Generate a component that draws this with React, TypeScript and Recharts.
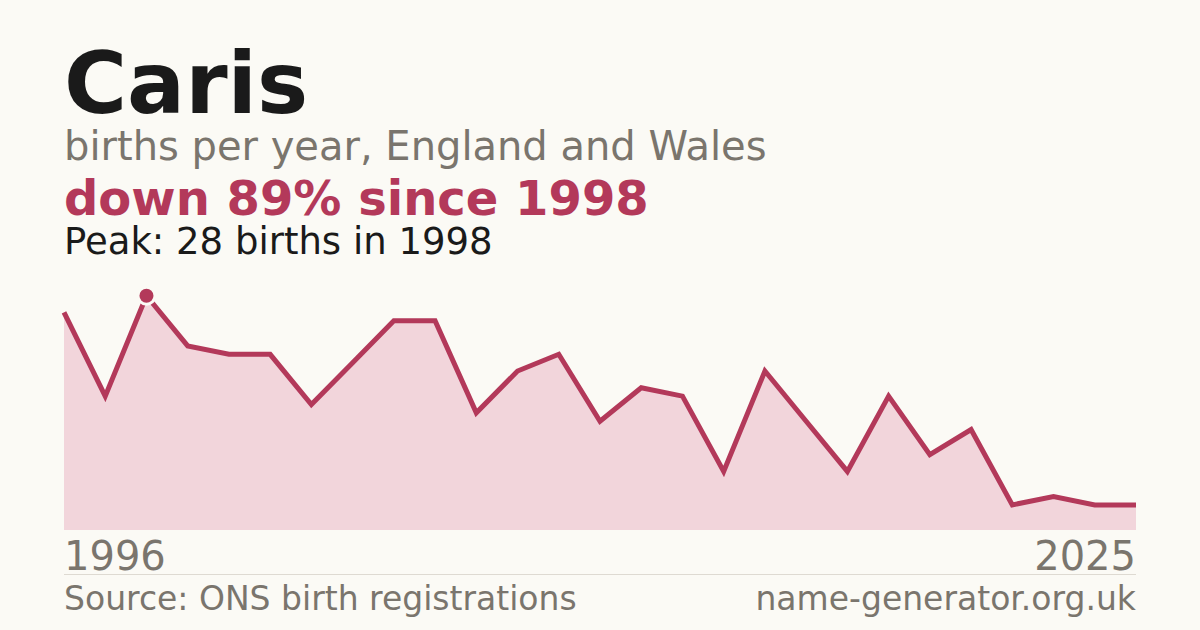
import React from "react";
import { AreaChart, Area, XAxis, YAxis } from "recharts";

// births per year
const years = [
  "1996", "1997", "1998", "1999", "2000", "2001", "2002", "2003", "2004",
  "2005", "2006", "2007", "2008", "2009", "2010", "2011", "2012", "2013",
  "2014", "2015", "2016", "2017", "2018", "2019", "2020", "2021", "2022",
];
const births = [
  26, 16, 28, 22, 21, 21, 15, 20, 25, 25, 14, 19, 21, 13, 17, 16, 7, 19,
  13, 7, 16, 9, 12, 3, 4, 3, 3,
];
const axisLabels = ["1996", "2025"];
const peakYear = "1998";

const data = years.map((y, i) => ({ year: y, births: births[i] }));
const peakIndex = years.indexOf(peakYear);

const FONT = "'DejaVu Sans', sans-serif";
const RED = "#b3395a";
const GREY = "#7a756d";

// only the peak year gets a marker
const PeakDot = (props: any) => {
  const { cx, cy, index } = props;
  if (index !== peakIndex || cx == null || cy == null) return <g key={`d-${index}`} />;
  return (
    <g key={`d-${index}`}>
      <circle cx={cx} cy={cy} r={10} fill="#fbfaf5" />
      <circle cx={cx} cy={cy} r={7} fill={RED} />
    </g>
  );
};

export default function App() {
  return (
    <div
      style={{
        position: "absolute",
        left: 0,
        top: 0,
        width: 1200,
        height: 630,
        background: "#fbfaf5",
        fontFamily: FONT,
      }}
    >
      <AreaChart
        width={1200}
        height={630}
        data={data}
        margin={{ top: 279, right: 64, bottom: 100, left: 64 }}
      >
        <XAxis dataKey="year" hide />
        <YAxis hide domain={[0, 30]} />
        <Area
          type="linear"
          dataKey="births"
          stroke={RED}
          strokeWidth={5}
          fill="#f2d5db"
          fillOpacity={1}
          dot={PeakDot}
          activeDot={false}
          isAnimationActive={false}
        />
      </AreaChart>
      <svg
        width={1200}
        height={630}
        style={{ position: "absolute", left: 0, top: 0, pointerEvents: "none" }}
      >
        <text x={64} y={113} fontFamily={FONT} fontSize={86} fontWeight="bold" fill="#1a1a1a">
          Caris
        </text>
        <text x={64} y={160} fontFamily={FONT} fontSize={40} fill={GREY}>
          births per year, England and Wales
        </text>
        <text x={64} y={215} fontFamily={FONT} fontSize={48} fontWeight="bold" fill={RED}>
          down 89% since 1998
        </text>
        <text x={64} y={254} fontFamily={FONT} fontSize={37} fill="#1a1a1a">
          Peak: 28 births in 1998
        </text>
        <text x={64} y={570} fontFamily={FONT} fontSize={40} fill={GREY}>
          {axisLabels[0]}
        </text>
        <text x={1136} y={570} fontFamily={FONT} fontSize={40} fill={GREY} textAnchor="end">
          {axisLabels[1]}
        </text>
        <line x1={64} x2={1136} y1={574.5} y2={574.5} stroke="#dedad2" strokeWidth={1} />
        <text x={64} y={610} fontFamily={FONT} fontSize={33} fill={GREY}>
          Source: ONS birth registrations
        </text>
        <text x={1136} y={610} fontFamily={FONT} fontSize={33} fill={GREY} textAnchor="end">
          name-generator.org.uk
        </text>
      </svg>
    </div>
  );
}
